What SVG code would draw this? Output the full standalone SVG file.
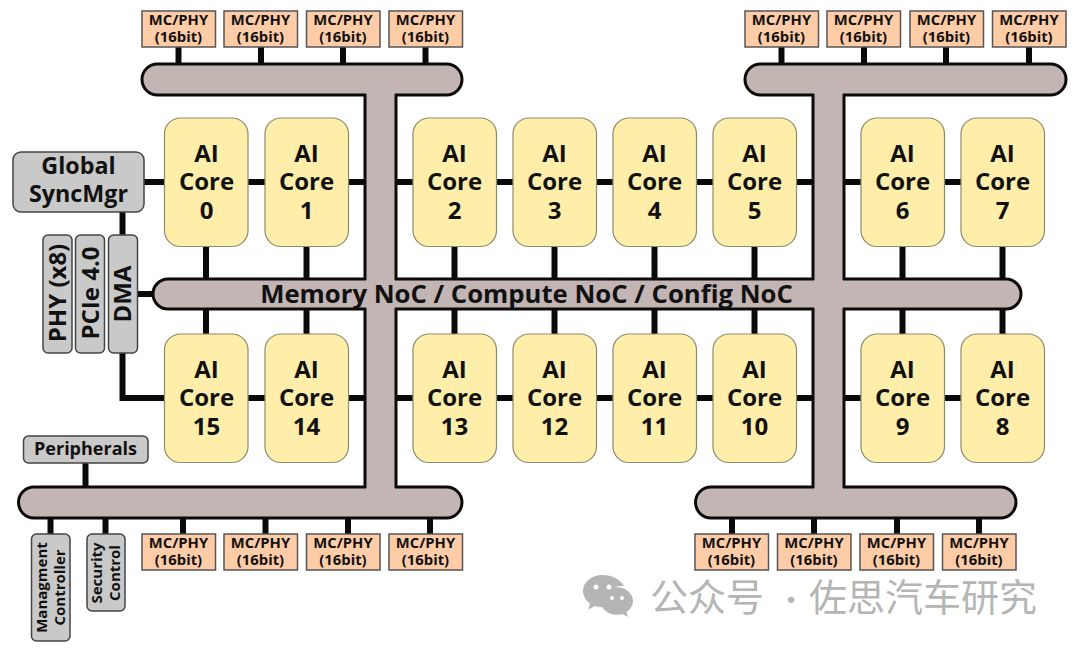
<svg xmlns="http://www.w3.org/2000/svg" width="1080" height="654" viewBox="0 0 1080 654">
<style>
text{font-family:"Open Sans","Noto Sans","Liberation Sans",sans-serif;font-weight:700;fill:#111;text-anchor:middle}
.core rect{fill:#ffeeaa;stroke:#8f8a6a;stroke-width:1.2}
.core text{font-size:24px}
.mc rect{fill:#ffcca8;stroke:#555;stroke-width:1.5}
.mc text{font-size:14.800px}
.gray rect{fill:#c9c9c9;stroke:#444;stroke-width:1.5}
.bus{fill:#c4b5b5;stroke:#0a0a0a;stroke-width:3}
.conn line,.conn path{stroke:#0a0a0a;stroke-width:6;fill:none}
.edge{stroke:#0a0a0a;stroke-width:3}
.wm{font-family:"Noto Sans CJK SC",sans-serif;font-weight:400;fill:#b5b5b5;font-size:38px}
</style>
<defs>
<g id="mcbox" class="mc"><rect x="0" y="0" width="73.500" height="36"/><text x="36.500" y="14">MC/PHY</text><text x="36.500" y="31">(16bit)</text></g>
</defs>
<g id="connectors" class="conn">
<line x1="178.500" y1="47" x2="178.500" y2="66"/><line x1="261" y1="47" x2="261" y2="66"/><line x1="343" y1="47" x2="343" y2="66"/><line x1="425.500" y1="47" x2="425.500" y2="66"/>
<line x1="781.500" y1="47" x2="781.500" y2="66"/><line x1="864" y1="47" x2="864" y2="66"/><line x1="946" y1="47" x2="946" y2="66"/><line x1="1029" y1="47" x2="1029" y2="66"/>
<line x1="183" y1="516" x2="183" y2="534"/><line x1="265.500" y1="516" x2="265.500" y2="534"/><line x1="348" y1="516" x2="348" y2="534"/><line x1="430" y1="516" x2="430" y2="534"/>
<line x1="732" y1="516" x2="732" y2="534"/><line x1="814" y1="516" x2="814" y2="534"/><line x1="897" y1="516" x2="897" y2="534"/><line x1="979" y1="516" x2="979" y2="534"/>
<line x1="50.500" y1="516" x2="50.500" y2="534"/><line x1="105.500" y1="516" x2="105.500" y2="534"/><line x1="85.500" y1="463" x2="85.500" y2="489"/>
<line x1="144" y1="182" x2="164" y2="182"/><line x1="248" y1="182" x2="265" y2="182"/><line x1="348" y1="182" x2="365" y2="182"/><line x1="396" y1="182" x2="413" y2="182"/><line x1="496" y1="182" x2="513" y2="182"/><line x1="596" y1="182" x2="613" y2="182"/><line x1="696" y1="182" x2="713" y2="182"/><line x1="796" y1="182" x2="813" y2="182"/><line x1="844" y1="182" x2="861" y2="182"/><line x1="944" y1="182" x2="961" y2="182"/>
<line x1="248" y1="398" x2="265" y2="398"/><line x1="348" y1="398" x2="365" y2="398"/><line x1="396" y1="398" x2="413" y2="398"/><line x1="496" y1="398" x2="513" y2="398"/><line x1="596" y1="398" x2="613" y2="398"/><line x1="696" y1="398" x2="713" y2="398"/><line x1="796" y1="398" x2="813" y2="398"/><line x1="844" y1="398" x2="861" y2="398"/><line x1="944" y1="398" x2="961" y2="398"/>
<line x1="122.500" y1="212" x2="122.500" y2="235"/><line x1="137" y1="294" x2="155" y2="294"/><path d="M122.500 353V398H164"/>
<line x1="206" y1="246" x2="206" y2="281"/><line x1="306.500" y1="246" x2="306.500" y2="281"/><line x1="454.500" y1="246" x2="454.500" y2="281"/><line x1="554.500" y1="246" x2="554.500" y2="281"/><line x1="654.500" y1="246" x2="654.500" y2="281"/><line x1="754.500" y1="246" x2="754.500" y2="281"/><line x1="902.500" y1="246" x2="902.500" y2="281"/><line x1="1002.500" y1="246" x2="1002.500" y2="281"/>
<line x1="206" y1="307" x2="206" y2="334"/><line x1="306.500" y1="307" x2="306.500" y2="334"/><line x1="454.500" y1="307" x2="454.500" y2="334"/><line x1="554.500" y1="307" x2="554.500" y2="334"/><line x1="654.500" y1="307" x2="654.500" y2="334"/><line x1="754.500" y1="307" x2="754.500" y2="334"/><line x1="902.500" y1="307" x2="902.500" y2="334"/><line x1="1002.500" y1="307" x2="1002.500" y2="334"/>
</g>
<g id="noc-fabric">
<rect class="bus" x="142" y="64" width="320" height="31" rx="15.500"/>
<rect class="bus" x="745" y="64" width="321" height="31" rx="15.500"/>
<rect class="bus" x="18.500" y="487" width="443.500" height="31" rx="15.500"/>
<rect class="bus" x="695.500" y="487" width="320.500" height="31" rx="15.500"/>
<rect class="bus" x="153" y="279" width="868" height="30" rx="15"/>
<rect x="366" y="90" width="29" height="402" fill="#c4b5b5"/>
<rect x="814" y="90" width="29" height="402" fill="#c4b5b5"/>
<line class="edge" x1="365" y1="94" x2="365" y2="280"/><line class="edge" x1="396" y1="94" x2="396" y2="280"/>
<line class="edge" x1="365" y1="308" x2="365" y2="488"/><line class="edge" x1="396" y1="308" x2="396" y2="488"/>
<line class="edge" x1="813" y1="94" x2="813" y2="280"/><line class="edge" x1="844" y1="94" x2="844" y2="280"/>
<line class="edge" x1="813" y1="308" x2="813" y2="488"/><line class="edge" x1="844" y1="308" x2="844" y2="488"/>
<text x="526.500" y="303" font-size="25.700">Memory NoC / Compute NoC / Config NoC</text>
</g>
<g id="mc-top-1"><use href="#mcbox" x="142" y="11"/></g><g id="mc-top-2"><use href="#mcbox" x="224" y="11"/></g><g id="mc-top-3"><use href="#mcbox" x="306.500" y="11"/></g><g id="mc-top-4"><use href="#mcbox" x="389" y="11"/></g>
<g id="mc-top-5"><use href="#mcbox" x="745" y="11"/></g><g id="mc-top-6"><use href="#mcbox" x="827" y="11"/></g><g id="mc-top-7"><use href="#mcbox" x="910" y="11"/></g><g id="mc-top-8"><use href="#mcbox" x="992.500" y="11"/></g>
<g id="mc-bot-1"><use href="#mcbox" x="142" y="534"/></g><g id="mc-bot-2"><use href="#mcbox" x="224" y="534"/></g><g id="mc-bot-3"><use href="#mcbox" x="306.500" y="534"/></g><g id="mc-bot-4"><use href="#mcbox" x="389" y="534"/></g>
<g id="mc-bot-5"><use href="#mcbox" x="695" y="534"/></g><g id="mc-bot-6"><use href="#mcbox" x="777.500" y="534"/></g><g id="mc-bot-7"><use href="#mcbox" x="860" y="534"/></g><g id="mc-bot-8"><use href="#mcbox" x="942.500" y="534"/></g>
<g id="core-0" class="core"><rect x="164.500" y="118" width="83.500" height="128.500" rx="16"/><text x="206.500" y="162">AI</text><text x="206.500" y="190">Core</text><text x="206.500" y="219">0</text></g>
<g id="core-1" class="core"><rect x="265" y="118" width="83.500" height="128.500" rx="16"/><text x="306.500" y="162">AI</text><text x="306.500" y="190">Core</text><text x="306.500" y="219">1</text></g>
<g id="core-2" class="core"><rect x="413" y="118" width="83.500" height="128.500" rx="16"/><text x="454.500" y="162">AI</text><text x="454.500" y="190">Core</text><text x="454.500" y="219">2</text></g>
<g id="core-3" class="core"><rect x="513" y="118" width="83.500" height="128.500" rx="16"/><text x="554.500" y="162">AI</text><text x="554.500" y="190">Core</text><text x="554.500" y="219">3</text></g>
<g id="core-4" class="core"><rect x="613" y="118" width="83.500" height="128.500" rx="16"/><text x="654.500" y="162">AI</text><text x="654.500" y="190">Core</text><text x="654.500" y="219">4</text></g>
<g id="core-5" class="core"><rect x="713" y="118" width="83.500" height="128.500" rx="16"/><text x="754.500" y="162">AI</text><text x="754.500" y="190">Core</text><text x="754.500" y="219">5</text></g>
<g id="core-6" class="core"><rect x="861" y="118" width="83.500" height="128.500" rx="16"/><text x="902.500" y="162">AI</text><text x="902.500" y="190">Core</text><text x="902.500" y="219">6</text></g>
<g id="core-7" class="core"><rect x="961" y="118" width="83.500" height="128.500" rx="16"/><text x="1002.500" y="162">AI</text><text x="1002.500" y="190">Core</text><text x="1002.500" y="219">7</text></g>
<g id="core-15" class="core"><rect x="164.500" y="334" width="83.500" height="128.500" rx="16"/><text x="206.500" y="378">AI</text><text x="206.500" y="406">Core</text><text x="206.500" y="435">15</text></g>
<g id="core-14" class="core"><rect x="265" y="334" width="83.500" height="128.500" rx="16"/><text x="306.500" y="378">AI</text><text x="306.500" y="406">Core</text><text x="306.500" y="435">14</text></g>
<g id="core-13" class="core"><rect x="413" y="334" width="83.500" height="128.500" rx="16"/><text x="454.500" y="378">AI</text><text x="454.500" y="406">Core</text><text x="454.500" y="435">13</text></g>
<g id="core-12" class="core"><rect x="513" y="334" width="83.500" height="128.500" rx="16"/><text x="554.500" y="378">AI</text><text x="554.500" y="406">Core</text><text x="554.500" y="435">12</text></g>
<g id="core-11" class="core"><rect x="613" y="334" width="83.500" height="128.500" rx="16"/><text x="654.500" y="378">AI</text><text x="654.500" y="406">Core</text><text x="654.500" y="435">11</text></g>
<g id="core-10" class="core"><rect x="713" y="334" width="83.500" height="128.500" rx="16"/><text x="754.500" y="378">AI</text><text x="754.500" y="406">Core</text><text x="754.500" y="435">10</text></g>
<g id="core-9" class="core"><rect x="861" y="334" width="83.500" height="128.500" rx="16"/><text x="902.500" y="378">AI</text><text x="902.500" y="406">Core</text><text x="902.500" y="435">9</text></g>
<g id="core-8" class="core"><rect x="961" y="334" width="83.500" height="128.500" rx="16"/><text x="1002.500" y="378">AI</text><text x="1002.500" y="406">Core</text><text x="1002.500" y="435">8</text></g>
<g id="global-syncmgr" class="gray"><rect x="13" y="152" width="131" height="60" rx="8"/><text x="78.500" y="174" font-size="23.300">Global</text><text x="78.500" y="202" font-size="23.300">SyncMgr</text></g>
<g id="phy" class="gray"><rect x="43" y="235" width="29" height="118" rx="5"/><text transform="translate(66 293) rotate(-90)" font-size="24">PHY (x8)</text></g>
<g id="pcie" class="gray"><rect x="75.500" y="235" width="29" height="118" rx="5"/><text transform="translate(98.500 293) rotate(-90)" font-size="24">PCIe 4.0</text></g>
<g id="dma" class="gray"><rect x="108.500" y="235" width="29" height="118" rx="5"/><text transform="translate(131 294) rotate(-90)" font-size="24">DMA</text></g>
<g id="peripherals" class="gray"><rect x="23.500" y="436" width="124.500" height="27" rx="5"/><text x="85.500" y="454.500" font-size="18">Peripherals</text></g>
<g id="management" class="gray"><rect x="31.500" y="534" width="38.500" height="107" rx="5"/><text transform="translate(47 587.500) rotate(-90)" font-size="15">Managment</text><text transform="translate(65 587.500) rotate(-90)" font-size="15">Controller</text></g>
<g id="security" class="gray"><rect x="87" y="534" width="38" height="77" rx="5"/><text transform="translate(102 573) rotate(-90)" font-size="15">Security</text><text transform="translate(120 573) rotate(-90)" font-size="15">Control</text></g>
<g id="watermark">
<path fill="#b5b5b5" d="M602 575c-10.500 0-19 7-19 16 0 5 2.700 9.500 7 12.500l-1.500 6 6.500-3.500c2.200.6 4.500 1 7 1 .8 0 1.500 0 2.300-.1-.5-1.600-.8-3.200-.8-4.900 0-9 8.300-16 18.500-16 .6 0 1.300 0 1.900.1C621 579.800 612.400 575 602 575z"/>
<path fill="#b5b5b5" d="M633 601c0-7.700-7.500-13.800-16.300-13.800S600.500 593.300 600.500 601s7.500 13.800 16.200 13.800c2 0 4-.3 5.700-.9l5.500 3-1.300-5c3.700-2.600 6.400-6.500 6.400-10.900z"/>
<circle cx="596" cy="587" r="2.500" fill="#fff"/><circle cx="609" cy="587" r="2.500" fill="#fff"/><circle cx="612" cy="598" r="2" fill="#fff"/><circle cx="622" cy="598" r="2" fill="#fff"/>
<text class="wm" x="650" y="611" style="text-anchor:start">公众号</text>
<text class="wm" x="791" y="611" style="font-size:30px">·</text>
<text class="wm" x="809" y="611" style="text-anchor:start">佐思汽车研究</text>
</g>
</svg>
